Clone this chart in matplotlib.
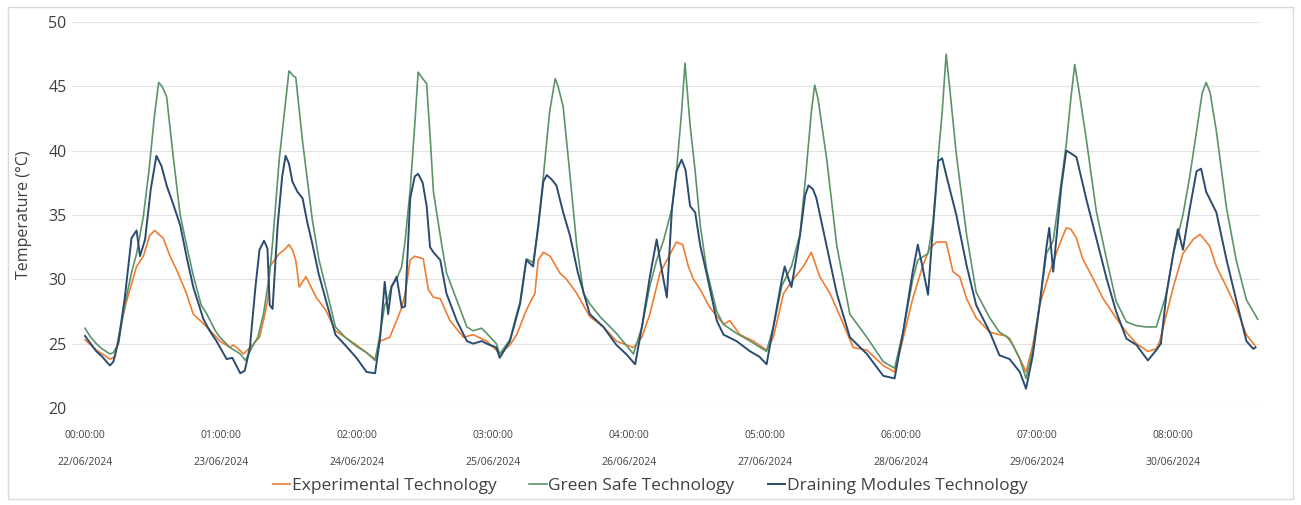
import matplotlib
matplotlib.use('Agg')
import matplotlib.pyplot as plt
from matplotlib.patches import Rectangle

# hours since 22/06/2024 00:00 and temperatures (°C) for each technology
exp_hours = [0, 2, 4.4, 5.3, 5.9, 7.2, 9.1, 10.3, 11.4, 12.3, 13.0, 13.8, 15, 16.2, 17.9, 19.1, 21.5, 23.8,
             25.6, 26.2, 27, 28, 29.1, 30.8, 31.5, 32.3, 32.6, 34.3, 35.2, 36, 36.6, 37.2, 37.8, 39, 40.8, 42.5,
             44.2, 45.9, 47.9, 49.7, 51.2, 52.1, 53.8, 55, 55.9, 56.5, 57.4, 58.2, 59.7, 60.6, 61.5, 62.7, 64.4,
             66.8, 68.5, 70.9, 72.6, 73.2, 75, 76.2, 77.9, 78.8, 79.4, 80, 80.9, 82.1, 83.8, 85, 86.8, 89.1,
             91.5, 93.8, 96.8, 98.3, 99.7, 101.5, 102.7, 104.4, 105.5, 106.5, 107.4, 108.6, 110.3, 112.7, 113.8,
             115.6, 118, 120.3, 121.5, 123.3, 125, 126.8, 128.2, 129.7, 131.5, 133.3, 135.6, 138, 140.9, 142.9,
             144.4, 146.1, 147.9, 149.1, 150.3, 152, 153.2, 154.4, 155.6, 157.3, 159.7, 161.4, 162.6, 163.8,
             165.6, 166.1, 167.3, 168.5, 170.3, 172, 173.2, 174, 175, 176.1, 177.9, 179.7, 182, 183.8, 185.6,
             187.6, 189.1, 189.7, 192.1, 193.8, 195.6, 196.8, 198.5, 199.7, 201.5, 203.2, 205, 206.6]
exp_temp = [25.3, 24.5, 23.8, 24.0, 25.5, 28.1, 31.0, 31.8, 33.4, 33.8, 33.5, 33.2, 31.8, 30.7, 28.9, 27.3, 26.3, 25.2,
            24.7, 24.9, 24.6, 24.2, 24.7, 25.5, 26.8, 28.5, 31.0, 32.0, 32.3, 32.7, 32.3, 31.5, 29.4, 30.2, 28.6, 27.6,
            26.0, 25.5, 24.9, 24.3, 23.8, 25.2, 25.5, 26.8, 27.8, 28.9, 31.5, 31.8, 31.6, 29.2, 28.6, 28.5, 26.8,
            25.5, 25.7, 25.2, 24.5, 24.2, 24.9, 25.7, 27.6, 28.4, 28.9, 31.5, 32.1, 31.8, 30.5, 30.0, 28.9, 27.1,
            26.3, 25.2, 24.7, 25.5, 27.3, 30.5, 31.5, 32.9, 32.7, 31.0, 30.0, 29.2, 27.8, 26.5, 26.8,
            25.7, 25.2, 24.5, 25.5, 28.9, 30.0, 31.0, 32.1, 30.2, 28.9, 27.1, 24.7, 24.5, 23.3, 22.8,
            25.4, 28.5, 31.1, 32.4, 32.9, 32.9, 30.6, 30.2, 28.5, 27.0, 25.9, 25.7, 25.6, 24.9,
            23.3, 22.8, 24.9, 28.0, 30.6, 32.7, 34.0, 33.9, 33.2, 31.6, 30.1, 28.5, 27.0, 25.9, 25.0,
            24.4, 24.6, 25.2, 29.4, 32.0, 33.1, 33.5, 32.6, 31.0, 29.4, 27.8, 25.7, 24.8]

green_hours = [0, 1, 2, 3, 4.4, 5, 5.9, 7, 8.2, 9.1, 10.3, 11.3, 12.2, 13.0, 13.6, 14.4, 15.6, 16.8, 18, 19.1, 20.5,
               21.5, 23, 23.8, 25.6, 27.4, 28.3, 29.7, 30.5, 31.5, 32.6, 33.1, 34.3, 35.2, 36, 36.8, 37.2, 38.4,
               40.1, 41.3, 42.5, 44.2, 45.9, 47.9, 49.7, 51.2, 52.1, 52.9, 53.5, 54.1, 55, 55.9, 56.5, 57.4, 58.2,
               58.8, 59.6, 60.3, 61, 61.5, 62.7, 63.8, 65.6, 67.4, 68.5, 70, 70.9, 72.6, 73.2, 75, 76.8, 77.9,
               79.1, 80, 80.9, 82, 83, 83.5, 84.4, 85.6, 86.8, 88, 89.1, 90.9, 93.8, 96.8, 98.3, 99.7, 100.9,
               102.1, 103.6, 104.4, 105.3, 105.9, 106.8, 107.7, 108.6, 109.7, 111.5, 112.7, 115, 117.4, 120.3,
               121.5, 123, 124.7, 126.2, 127.2, 128.2, 128.8, 129.4, 130.9, 132.7, 135, 138, 140.9, 142.9, 144.4,
               146.1, 147, 148.8, 149.7, 150.6, 151.3, 152, 152.6, 153.8, 155.6, 157.3, 159.7, 161.4, 163.2, 165,
               166.1, 167.3, 168.5, 169.7, 170.9, 172.3, 173.2, 174, 174.7, 175.5, 176.7, 178.5, 180.3, 182,
               183.8, 185.6, 187.3, 189.1, 190.9, 192.1, 193.8, 195, 196.2, 197.2, 197.9, 198.6, 199.7, 201.5,
               203.2, 205, 207]
green_temp = [26.2, 25.5, 25.0, 24.6, 24.2, 24.3, 25.0, 28.0, 30.5, 32.0, 34.9, 38.5, 42.5, 45.3, 45.0, 44.2, 39.4,
              35.0, 32.5, 30.3, 28.0, 27.3, 26.0, 25.5, 24.7, 24.2, 23.7, 24.9, 25.5, 27.3, 30.5, 32.8, 39.4, 43.0,
              46.2, 45.8, 45.7, 40.7, 34.7, 31.5, 29.4, 26.3, 25.5, 24.8, 24.3, 23.7, 25.8, 28.0, 28.5, 29.5, 30.0,
              31.0, 33.0, 37.0, 42.0, 46.1, 45.6, 45.2, 40.5, 36.8, 33.4, 30.5, 28.4, 26.3, 26.0, 26.2, 25.8, 25.0,
              24.2, 25.3, 28.3, 31.6, 31.3, 34.0, 38.0, 43.0, 45.6, 45.0, 43.4, 38.1, 32.6, 28.9, 28.1, 27.1, 25.8,
              24.2, 26.3, 29.5, 31.5, 33.0, 35.5, 38.4, 43.0, 46.8, 42.0, 38.4, 34.2, 30.8, 27.5, 26.5, 25.8, 25.2,
              24.4, 26.3, 29.5, 31.0, 33.5, 38.0, 43.0, 45.1, 44.0, 39.4, 32.6, 27.3, 25.5, 23.6, 23.1, 25.9, 30.0,
              31.5, 32.0, 34.5, 39.5, 43.0, 47.5, 45.0, 39.7, 33.5, 29.0, 27.0, 25.9, 25.4, 23.8, 22.3, 24.5, 28.0,
              32.0, 33.0, 37.5, 40.5, 44.0, 46.7, 44.5, 41.0, 35.3, 31.6, 28.3, 26.7, 26.4, 26.3, 26.3, 28.9, 32.0,
              35.0, 38.0, 41.5, 44.5, 45.3, 44.5, 41.5, 35.5, 31.5, 28.4, 26.9]

drain_hours = [0, 1, 2, 3, 4.4, 5, 5.9, 7, 8.2, 9.1, 9.7, 10.6, 11.6, 12.6, 13.5, 14.4, 15.6, 16.8, 18, 19.1, 20.9,
               22, 23.2, 25, 26, 27.4, 28.2, 29.1, 30.1, 30.8, 31.6, 32.2, 32.6, 33.1, 34, 34.8, 35.4, 36, 36.6,
               37.5, 38.4, 39.2, 40.1, 41.2, 42.5, 44.2, 45.9, 47.9, 49.7, 51.2, 52.1, 52.9, 53.5, 54.1, 55, 55.9,
               56.5, 57.4, 58.2, 58.8, 59.6, 60.3, 60.9, 61.5, 62.7, 63.8, 65.6, 67.4, 68.5, 70, 70.9, 72.6, 73.2,
               75, 76.8, 77.9, 79.1, 80, 80.9, 81.5, 82.3, 83.2, 84.4, 85.6, 87, 89.1, 91.5, 93.8, 95.5, 97.1,
               98.3, 99.7, 100.9, 101.5, 102.1, 102.7, 103.6, 104.4, 105.3, 106, 106.8, 107.7, 108.6, 109.7, 111.5,
               112.7, 115, 117.4, 119, 120.3, 121.5, 123, 123.5, 124.2, 124.7, 126.2, 127.1, 127.7, 128.5, 129.1,
               130.9, 132.7, 135, 138, 140.9, 142.9, 144.4, 146.1, 147, 147.9, 148.8, 149.7, 150.6, 151.3, 152.3,
               153.8, 155.6, 157.3, 159.7, 161.4, 163.2, 165, 166.1, 167.3, 168.5, 169.7, 170.2, 170.9, 172.3,
               173.2, 174, 175, 176.7, 178.5, 180.3, 182, 183.8, 185.6, 187.6, 189.1, 189.9, 190.9, 192.1, 192.9,
               193.8, 195, 196.2, 197, 197.9, 199.7, 201.5, 203.2, 205, 206.2, 206.6]
drain_temp = [25.6, 25.0, 24.4, 24.0, 23.3, 23.6, 25.2, 28.5, 33.2, 33.8, 31.8, 33.1, 37.0, 39.6, 38.8, 37.3, 35.8,
              34.2, 31.6, 29.4, 26.9, 26.0, 25.2, 23.8, 23.9, 22.7, 22.9, 24.7, 29.5, 32.3, 33.0, 32.4, 28.0, 27.7,
              34.2, 38.0, 39.6, 39.0, 37.6, 36.8, 36.3, 34.5, 32.8, 30.5, 28.4, 25.7, 24.9, 23.9, 22.8, 22.7, 25.5,
              29.8, 27.3, 29.4, 30.2, 27.8, 27.9, 36.3, 38.0, 38.2, 37.5, 35.7, 32.5, 32.1, 31.5, 28.9, 26.8, 25.2,
              25.0, 25.2, 25.0, 24.7, 23.9, 25.2, 28.1, 31.5, 31.0, 34.2, 37.6, 38.1, 37.8, 37.3, 35.2, 33.4, 30.5,
              27.3, 26.3, 24.9, 24.2, 23.4, 26.3, 30.2, 33.1, 31.5, 30.0, 28.6, 35.5, 38.4, 39.3, 38.5, 35.7, 35.2,
              32.6, 30.5, 26.8, 25.7, 25.2, 24.4, 24.0, 23.4, 26.3, 30.0, 31.0, 30.0, 29.4, 33.4, 36.5, 37.3, 37.0,
              36.3, 32.6, 28.9, 25.5, 24.2, 22.5, 22.3, 25.9, 30.6, 32.7, 30.8, 28.8, 34.2, 39.2, 39.4, 37.6, 35.0,
              31.1, 28.0, 25.9, 24.1, 23.8, 22.8, 21.5, 24.1, 28.0, 32.5, 34.0, 30.6, 37.1, 40.0, 39.8, 39.5, 36.3,
              33.2, 30.1, 27.5, 25.4, 24.9, 23.7, 24.5, 25.0, 28.9, 32.0, 33.9, 32.3, 35.5, 38.4, 38.6, 36.8, 35.2,
              31.5, 28.4, 25.2, 24.6, 24.7]

day_hours = [0, 24, 48, 72, 96, 120, 144, 168, 192]
time_labels = ['00:00:00', '01:00:00', '02:00:00', '03:00:00', '04:00:00',
               '05:00:00', '06:00:00', '07:00:00', '08:00:00']
date_labels = ['22/06/2024', '23/06/2024', '24/06/2024', '25/06/2024', '26/06/2024',
               '27/06/2024', '28/06/2024', '29/06/2024', '30/06/2024']

plt.rcParams['font.family'] = ['Open Sans', 'DejaVu Sans']
text_color = '#404040'

fig = plt.figure(figsize=(13.01, 5.05), dpi=100)
ax = fig.add_axes([72 / 1301, 97 / 505, 1188 / 1301, 386 / 505])

ax.plot(exp_hours, exp_temp, color='#ED7D31', lw=1.2, label='Experimental Technology')
ax.plot(green_hours, green_temp, color='#5A9468', lw=1.2, label='Green Safe Technology')
ax.plot(drain_hours, drain_temp, color='#2B4C70', lw=1.4, label='Draining Modules Technology')

ax.set_xlim(-2.3, 207.4)
ax.set_ylim(20, 50)
ax.set_yticks([20, 25, 30, 35, 40, 45, 50])
ax.grid(axis='y', color='#e3e3e3', lw=0.9)
ax.set_axisbelow(True)
for s in ax.spines.values():
    s.set_visible(False)

ax.set_xticks(day_hours)
ax.set_xticklabels([t + '\n' + d for t, d in zip(time_labels, date_labels)],
                   fontsize=7.5, linespacing=3.0, color=text_color)
ax.tick_params(axis='x', length=0, pad=16)
ax.tick_params(axis='y', length=0, pad=4, labelsize=11.5, labelcolor=text_color)

ax.set_ylabel('Temperature (°C)', fontsize=11.5, color=text_color)
ax.yaxis.set_label_coords(-0.034, 0.5)

fig.legend(loc='center', bbox_to_anchor=(650 / 1301, 1 - 486 / 505), ncol=3, frameon=False,
           fontsize=12.5, handlelength=1.0, handletextpad=0.1, columnspacing=1.9,
           labelcolor=text_color)

# light frame around the chart area
fig.patches.append(Rectangle((8 / 1301, 6 / 505), 1285 / 1301, 492 / 505, transform=fig.transFigure,
                             fill=False, edgecolor='#d9d9d9', lw=1))

fig.savefig('out.png', dpi=100)
plt.close()
